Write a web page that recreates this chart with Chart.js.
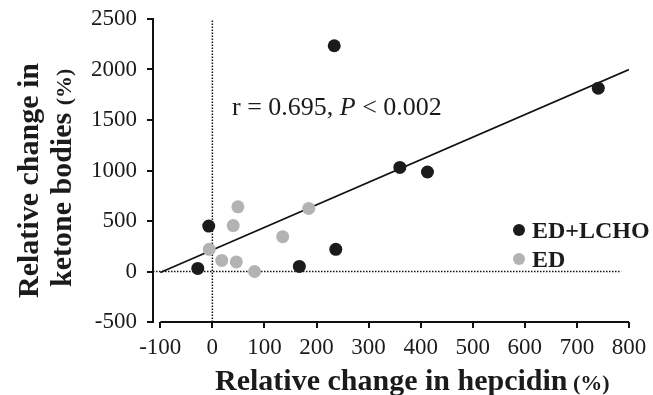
<!DOCTYPE html>
<html>
<head>
<meta charset="utf-8">
<script src="https://cdn.jsdelivr.net/npm/chart.js@4.4.0/dist/chart.umd.min.js"></script>
<style>
  html, body { margin: 0; padding: 0; background: #fff; }
</style>
</head>
<body>
<canvas id="ketoneChart" width="653" height="395"></canvas>
<script>
// ED+LCHO group: relative change in hepcidin (%) vs ketone bodies (%)
const edLchoX = [-28, -7, 167, 237, 234, 360, 413, 741];
const edLchoY = [30, 450, 50, 220, 2235, 1030, 985, 1815];
// ED group
const edX = [-6, 18, 46, 40, 49, 81, 135, 185];
const edY = [220, 110, 95, 455, 640, 0, 345, 625];
// regression line
const fitX = [-100, 800];
const fitY = [-10, 2000];
// dotted reference lines
const zeroX = [0, 0];
const zeroXY = [-500, 2500];
const zeroYX = [-114, 785];
const zeroY = [0, 0];
// axes
const xMin = -114;
const xTicks = [-100, 0, 100, 200, 300, 400, 500, 600, 700, 800];
const yTicks = [-500, 0, 500, 1000, 1500, 2000, 2500];

const labels = ['ED+LCHO', 'ED'];
const colors = ['#1b1b1b', '#b3b3b3'];

const toPoints = (xs, ys) => xs.map((x, i) => ({ x: x, y: ys[i] }));
const serif = '"Liberation Serif", "Times New Roman", serif';

// axis line, titles, annotation and legend
const extras = {
    id: 'extras',
    afterDraw(chart) {
        const ctx = chart.ctx;
        const xs = chart.scales.x;
        const ys = chart.scales.y;
        ctx.save();

        // x axis line only spans -100..800
        ctx.strokeStyle = '#111';
        ctx.lineWidth = 2;
        ctx.beginPath();
        ctx.moveTo(xs.getPixelForValue(xTicks[0]), ys.bottom);
        ctx.lineTo(xs.getPixelForValue(xTicks[xTicks.length - 1]), ys.bottom);
        ctx.stroke();

        ctx.fillStyle = '#1b1b1b';
        ctx.textBaseline = 'alphabetic';
        ctx.textAlign = 'left';

        // x title
        ctx.font = 'bold 30px ' + serif;
        const xt = 'Relative change in hepcidin ';
        ctx.fillText(xt, 215, 390);
        const xw = ctx.measureText(xt).width;
        ctx.font = 'bold 22px ' + serif;
        ctx.fillText('(%)', 213 + xw, 390);

        // y title (two lines, rotated)
        ctx.save();
        ctx.translate(38, 298);
        ctx.rotate(-Math.PI / 2);
        ctx.font = 'bold 30px ' + serif;
        ctx.fillText('Relative change in', 0, 0);
        ctx.restore();

        ctx.save();
        ctx.translate(71, 287);
        ctx.rotate(-Math.PI / 2);
        ctx.font = 'bold 30px ' + serif;
        const yt = 'ketone bodies ';
        ctx.fillText(yt, 0, 0);
        const yw = ctx.measureText(yt).width;
        ctx.font = 'bold 22px ' + serif;
        ctx.fillText('(%)', yw, 0);
        ctx.restore();

        // correlation note
        let tx = 232;
        ctx.font = '26px ' + serif;
        ctx.fillText('r = 0.695, ', tx, 115);
        tx += ctx.measureText('r = 0.695, ').width;
        ctx.font = 'italic 26px ' + serif;
        ctx.fillText('P', tx, 115);
        tx += ctx.measureText('P').width;
        ctx.font = '26px ' + serif;
        ctx.fillText(' < 0.002', tx, 115);

        // legend
        const legendY = [230, 259];
        ctx.font = 'bold 24px ' + serif;
        labels.forEach((lab, i) => {
            ctx.fillStyle = colors[i];
            ctx.beginPath();
            ctx.arc(519, legendY[i], 6, 0, Math.PI * 2);
            ctx.fill();
            ctx.fillStyle = '#1b1b1b';
            ctx.fillText(lab, 532, legendY[i] + 8);
        });

        ctx.restore();
    }
};

new Chart(document.getElementById('ketoneChart'), {
    type: 'scatter',
    data: {
        datasets: [
            {
                label: labels[0],
                data: toPoints(edLchoX, edLchoY),
                backgroundColor: colors[0],
                borderWidth: 0,
                pointRadius: 6.5
            },
            {
                label: labels[1],
                data: toPoints(edX, edY),
                backgroundColor: colors[1],
                borderWidth: 0,
                pointRadius: 6.5
            },
            {
                label: 'fit',
                data: toPoints(fitX, fitY),
                showLine: true,
                borderColor: '#111',
                borderWidth: 1.8,
                pointRadius: 0
            },
            {
                label: 'x0',
                data: toPoints(zeroX, zeroXY),
                showLine: true,
                borderColor: '#111',
                borderWidth: 1.5,
                borderDash: [1.5, 1.5],
                pointRadius: 0
            },
            {
                label: 'y0',
                data: toPoints(zeroYX, zeroY),
                showLine: true,
                borderColor: '#111',
                borderWidth: 1.5,
                borderDash: [1.5, 1.5],
                pointRadius: 0
            }
        ]
    },
    options: {
        responsive: false,
        animation: false,
        layout: { padding: { left: 0, right: 24, top: 19, bottom: 0 } },
        plugins: {
            legend: { display: false },
            tooltip: { enabled: false }
        },
        scales: {
            x: {
                type: 'linear',
                min: xMin,
                max: xTicks[xTicks.length - 1],
                afterBuildTicks: (s) => { s.ticks = xTicks.map(v => ({ value: v })); },
                afterFit: (s) => { s.height = 73; s.paddingLeft = 0; s.paddingRight = 0; },
                grid: { drawOnChartArea: false, drawTicks: true, tickLength: 6, color: '#111', lineWidth: 2 },
                border: { display: false },
                ticks: {
                    color: '#1b1b1b', padding: 6, maxRotation: 0, autoSkip: false,
                    font: { family: serif, size: 23 },
                    callback: (v) => String(v)
                }
            },
            y: {
                min: yTicks[0],
                max: yTicks[yTicks.length - 1],
                afterBuildTicks: (s) => { s.ticks = yTicks.map(v => ({ value: v })); },
                afterFit: (s) => { s.width = 153; s.paddingTop = 0; s.paddingBottom = 0; },
                grid: { drawOnChartArea: false, drawTicks: true, tickLength: 6, color: '#111', lineWidth: 2 },
                border: { display: true, color: '#111', width: 2 },
                ticks: {
                    color: '#1b1b1b', padding: 10, autoSkip: false,
                    font: { family: serif, size: 23 },
                    callback: (v) => String(v)
                }
            }
        }
    },
    plugins: [extras]
});
</script>
</body>
</html>
